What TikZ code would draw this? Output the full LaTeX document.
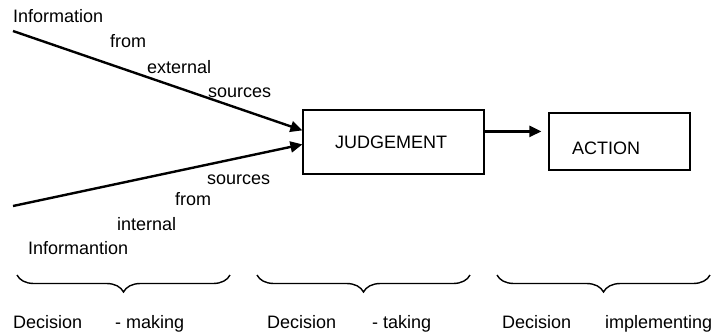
\documentclass[tikz,border=0pt]{standalone}
\usepackage{fontspec}
\setmainfont{Liberation Sans}
\usetikzlibrary{arrows.meta,decorations.pathreplacing}
\begin{document}
\begin{tikzpicture}[x=1pt,y=-1pt,
  every node/.style={font=\fontsize{18}{20}\selectfont, inner sep=0pt},
  txt/.style={anchor=base west},
  box/.style={draw, line width=1.2pt, rectangle},
  flow/.style={line width=2.4pt, -{Triangle[length=12pt,width=11pt]}},
  bracebar/.style={line width=1.4pt, decorate, decoration={brace, mirror, amplitude=17pt}}]
\useasboundingbox (0,0) rectangle (722,333);

% boxes
\node[box, minimum width=181pt, minimum height=64pt] (judge) at (393.5,142) {};
\node[box, minimum width=141pt, minimum height=57pt] (action) at (619.5,141.5) {};
\node[txt] (judgetxt) at (335,148) {JUDGEMENT};
\node[txt] (actiontxt) at (572,154) {ACTION};

% incoming information
\coordinate (ext) at (13,31);
\coordinate (int) at (13,206);
\draw[flow] (ext) -- ([yshift=-21pt]judge.north west);
\draw[flow] (int) -- ([yshift=-35pt]judge.north west);

% judgement to action
\coordinate (jout) at ([yshift=-22pt]judge.north east);
\draw[flow, shorten >=7pt] (jout) -- (jout -| action.west);

% labels of the external source
\node[txt] (e1) at (13,22) {Information};
\node[txt] (e2) at (110,47) {from};
\node[txt] (e3) at (147,73) {external};
\node[txt] (e4) at (208,97) {sources};

% labels of the internal source
\node[txt] (i1) at (207,184) {sources};
\node[txt] (i2) at (175,205) {from};
\node[txt] (i3) at (117,230) {internal};
\node[txt] (i4) at (28,254) {Informantion};

% phase braces
\draw[bracebar] (17,275) -- (230,275);
\draw[bracebar] (257,275) -- (470,275);
\draw[bracebar] (497,275) -- (710,275);

% phase names
\node[txt] (p1a) at (13,328) {Decision};
\node[txt] (p1b) at (115,328) {- making};
\node[txt] (p2a) at (267,328) {Decision};
\node[txt] (p2b) at (372,328) {- taking};
\node[txt] (p3a) at (502,328) {Decision};
\node[txt] (p3b) at (605,328) {implementing};
\end{tikzpicture}
\end{document}
